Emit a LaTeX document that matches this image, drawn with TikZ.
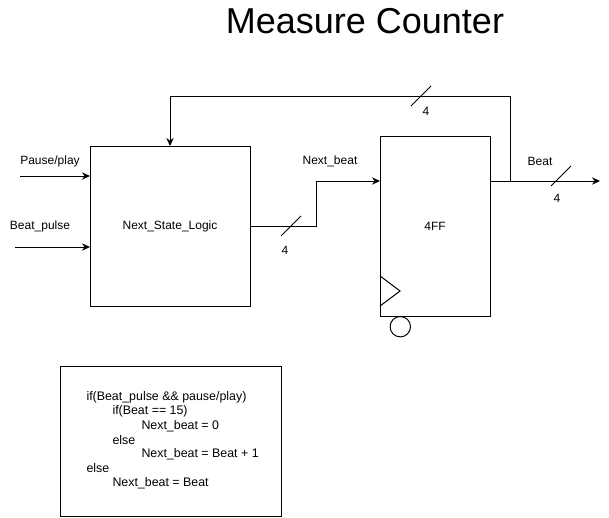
\documentclass[tikz,border=0pt]{standalone}
\usepackage{fontspec}
\setmainfont{Liberation Sans}
\usetikzlibrary{arrows.meta}

\begin{document}
\begin{tikzpicture}[x=0.75pt,y=-0.75pt,line width=0.75pt,>={Stealth[length=6pt,width=5.5pt]}]
    \tikzstyle{block}=[rectangle,draw=black,inner sep=0pt,outer sep=0pt,font=\fontsize{9}{11}\selectfont]
    \tikzstyle{lbl}=[inner sep=0pt,font=\fontsize{9}{11}\selectfont]
    \tikzstyle{codeline}=[lbl,anchor=west,font=\fontsize{9.3}{11}\selectfont]
    \useasboundingbox (0,0) rectangle (609,517);

    \node[lbl,font=\fontsize{27}{32}\selectfont] (title) at (365,21) {Measure Counter};

    \node[block,minimum width=120pt,minimum height=120pt] (nsl) at (170,226) {Next\_State\_Logic};
    \node[block,minimum width=82.5pt,minimum height=135pt] (ff) at (435,226) {4FF};
    \node[block,minimum width=165.75pt,minimum height=112.5pt] (code) at (170.5,441) {};

    % clock input and bubble of the register
    \draw (ff.south west) ++(0,-10) -- ++(20,-15) -- ++(-20,-15);
    \node[circle,draw,minimum size=15.3pt,inner sep=0pt] (bubble) at (400.3,326.7) {};

    \coordinate (pp) at (20,176);
    \coordinate (bp) at (15,247);
    \draw[->] (pp) -- (pp -| nsl.west);
    \draw[->] (bp) -- (bp -| nsl.west);
    \node[lbl] (pp-lbl) at (50,161) {Pause/play};
    \node[lbl] (bp-lbl) at (40,226) {Beat\_pulse};

    \coordinate (jog) at (316,181);
    \draw[->] (nsl.east) -| (jog) -- (jog -| ff.west);
    \node[lbl] (nb-lbl) at (330,161) {Next\_beat};

    \coordinate (out) at (600,181);
    \coordinate (fb) at (510,96);
    \draw[->] (out -| ff.east) -- (out);
    \draw[->] (fb |- out) -- (fb) -| (nsl.north);
    \node[lbl] (beat-lbl) at (540,161) {Beat};

    % bus widths
    \foreach \x/\y in {421/96, 291/226, 561/176}
        \draw (\x-10,\y+10) -- (\x+10,\y-10);
    \foreach \n/\x/\y in {fb/426/111, nb/285/250, out/557/198}
        \node[lbl] (w-\n) at (\x,\y) {4};

    \foreach \i/\ind/\txt in {0/86/{if(Beat\_pulse \&\& pause/play)}, 1/112/{if(Beat == 15)},
            2/141/{Next\_beat = 0}, 3/112/{else}, 4/141/{Next\_beat = Beat + 1},
            5/86/{else}, 6/112/{Next\_beat = Beat}}
        \node[codeline] (code-\i) at (\ind,397.3+14.25*\i) {\txt};
\end{tikzpicture}
\end{document}
